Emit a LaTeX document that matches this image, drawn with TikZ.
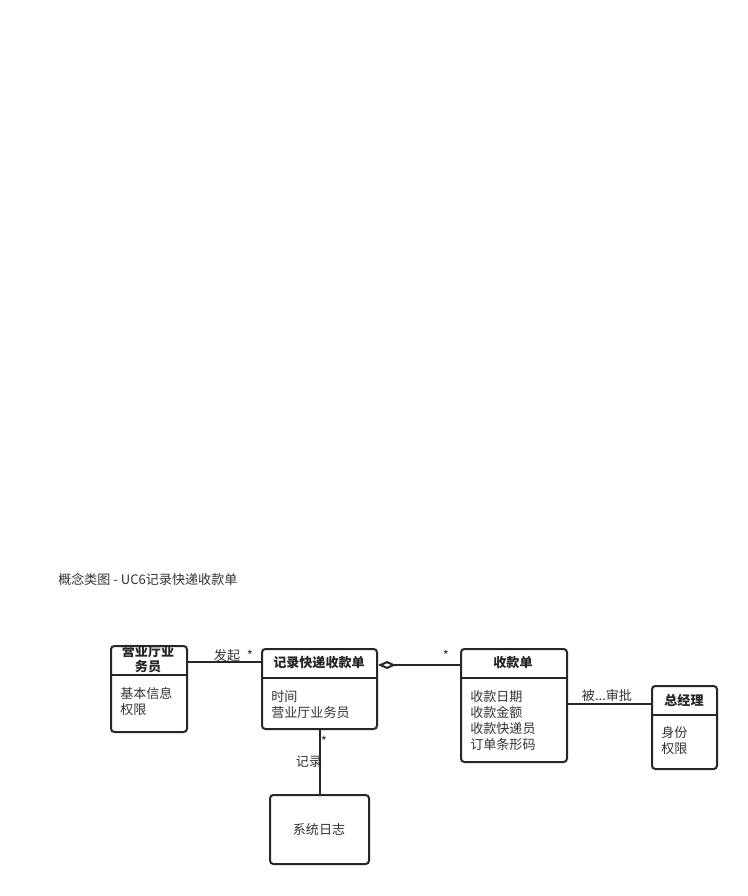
\documentclass[tikz,border=0pt]{standalone}
\usepackage{fontspec}
\setmainfont{Noto Sans CJK SC}
\usetikzlibrary{arrows.meta,calc}
\begin{document}
\begin{tikzpicture}[x=0.75pt,y=-0.75pt,
  every node/.style={font=\fontsize{9.8}{12}\selectfont, text=black!80},
  umlbox/.style={draw=black!85, line width=1.5pt, rounded corners=2.5pt, inner sep=0pt, anchor=north west},
  divider/.style={draw=black!85, line width=1.5pt},
  conn/.style={draw=black!85, line width=1.5pt},
  ttl/.style={font=\fontsize{9.8}{12}\selectfont\bfseries, text=black!85},
  attr/.style={anchor=west, align=left, inner sep=0pt},
  lbl/.style={inner sep=0pt}]
\useasboundingbox (0,0) rectangle (748,896);
\fill[white] (0,0) rectangle (748,896);

\node[attr] (title) at (58,579) {概念类图 - UC6记录快递收款单};

% boxes
\node[umlbox, minimum width=76*0.75pt, minimum height=86*0.75pt] (b1) at (110,645) {};
\node[umlbox, minimum width=115*0.75pt, minimum height=80*0.75pt] (b2) at (261,648) {};
\node[umlbox, minimum width=106*0.75pt, minimum height=113*0.75pt] (b3) at (460,648) {};
\node[umlbox, minimum width=65*0.75pt, minimum height=83*0.75pt] (b4) at (651,685) {};
\node[umlbox, minimum width=99*0.75pt, minimum height=69*0.75pt] (b5) at (269,794) {};

% dividers
\draw[divider] (110,675) -- (186,675);
\draw[divider] (261,678) -- (376,678);
\draw[divider] (460,678) -- (566,678);
\draw[divider] (651,715) -- (716,715);

% titles
\node[ttl, align=center, inner sep=0pt] (t1) at (148,659) {营业厅业\\[-1pt]务员};
\node[ttl] (t2) at (319,663) {记录快递收款单};
\node[ttl] (t3) at (513,663) {收款单};
\node[ttl] (t4) at (684,700) {总经理};

% attributes
\node[attr] (a1) at (120,701) {基本信息\\权限};
\node[attr] (a2) at (271,705) {时间\\营业厅业务员};
\node[attr] (a3) at (470,721) {收款日期\\收款金额\\收款快递员\\订单条形码};
\node[attr] (a4) at (661,741) {身份\\权限};
\node (a5) at (319,829) {系统日志};

% connectors
\coordinate (p1) at ($(b1.north east)+(0,17)$);
\draw[conn] (p1) -- (p1 -| b2.west);
\coordinate (p2) at ($(b3.north west)+(0,17)$);
\draw[conn, -{Diamond[open,length=13.5pt,width=6pt]}] (p2) -- (p2 -| b2.east);
\coordinate (p3) at ($(b4.north west)+(0,19)$);
\draw[conn] (p3) -- (p3 -| b3.east);
\draw[conn] (b2.south) -- (b5.north);

% labels
\node[lbl] (l1) at (227,656) {发起};
\node[lbl] (l2) at (250,655) {*};
\node[lbl] (l3) at (446,655) {*};
\node[lbl] (l4) at (607,695) {被...审批};
\node[lbl] (l5) at (324,741) {*};
\node[lbl] (l6) at (309,762) {记录};
\end{tikzpicture}
\end{document}
